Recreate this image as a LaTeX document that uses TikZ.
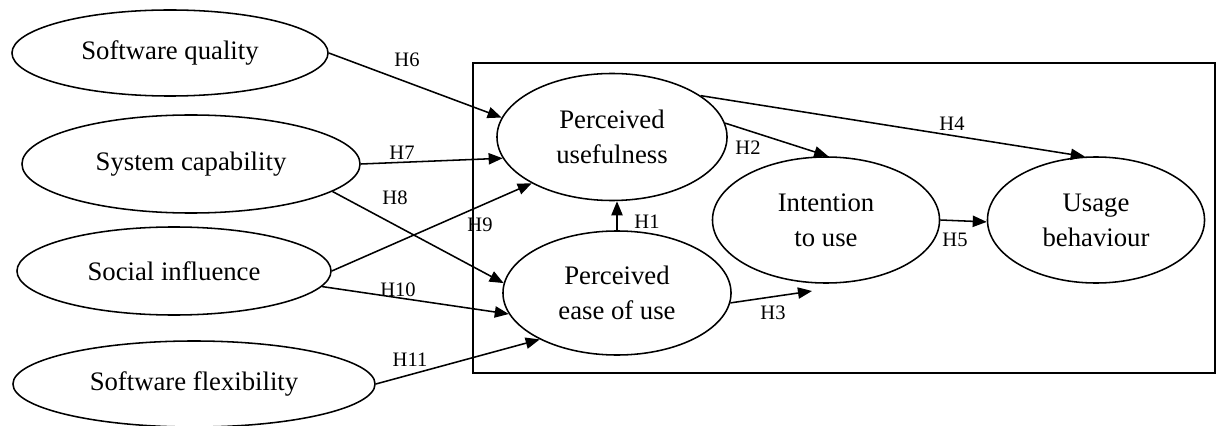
\documentclass[tikz,border=0pt]{standalone}
\usepackage{fontspec}
\setmainfont{Liberation Serif}
\usetikzlibrary{shapes.geometric,arrows.meta}

\begin{document}
\begin{tikzpicture}[x=0.025cm,y=-0.025cm,
    construct/.style={draw,ellipse,line width=1.1pt,inner sep=0pt,align=center,font=\fontsize{19}{24.8}\selectfont},
    hyp/.style={line width=1.1pt,-{Triangle[length=10pt,width=8pt]}},
    hlabel/.style={font=\fontsize{14.6}{17}\selectfont,inner sep=0pt}]
          \useasboundingbox (0,0) rectangle (1221,426);
          \draw[line width=1.1pt] (473,63) rectangle (1215,373);
          \node[construct,minimum width=7.9cm,minimum height=2.15cm] (sq) at (170,53) {Software quality};
          \node[construct,minimum width=8.45cm,minimum height=2.45cm] (sc) at (191,164) {System capability};
          \node[construct,minimum width=7.85cm,minimum height=2.2cm] (si) at (174,271) {Social influence};
          \node[construct,minimum width=9.05cm,minimum height=2.15cm] (sf) at (194,384) {Software flexibility};
          \node[construct,minimum width=5.75cm,minimum height=3.175cm] (pu) at (612,137) {Perceived\\usefulness};
          \node[construct,minimum width=5.7cm,minimum height=3.1cm] (peou) at (617,293) {Perceived\\ease of use};
          \node[construct,minimum width=5.675cm,minimum height=3.15cm] (itu) at (826,220) {Intention\\to use};
          \node[construct,minimum width=5.425cm,minimum height=3.15cm] (ub) at (1096,220) {Usage\\behaviour};
          \coordinate (h3tip) at (812,291);
          \draw[hyp] (peou.north) -- (peou.north |- pu.south);
          \draw[hyp] (pu.7) -- (itu.88);
          \draw[hyp] (peou.-5) -- (h3tip);
          \draw[hyp] (pu.25) -- (ub.100);
          \draw[hyp] (itu.east) -- (ub.181);
          \draw[hyp] (sq.east) -- (pu.170);
          \draw[hyp] (sc.east) -- (pu.191);
          \draw[hyp] (sc.-11) -- (peou.175);
          \draw[hyp] (si.east) -- (pu.210);
          \draw[hyp] (si.-6) -- (peou.191);
          \draw[hyp] (sf.east) -- (peou.211);
          \node[hlabel] (l1) at (647,222) {H1};
          \node[hlabel] (l2) at (748,148) {H2};
          \node[hlabel] (l3) at (773,313) {H3};
          \node[hlabel] (l4) at (952,124) {H4};
          \node[hlabel] (l5) at (955,240) {H5};
          \node[hlabel] (l6) at (407,60) {H6};
          \node[hlabel] (l7) at (402,153) {H7};
          \node[hlabel] (l8) at (395,198) {H8};
          \node[hlabel] (l9) at (480,225) {H9};
          \node[hlabel] (l10) at (398,290) {H10};
          \node[hlabel] (l11) at (410,360) {H11};
            \end{tikzpicture}
\end{document}
